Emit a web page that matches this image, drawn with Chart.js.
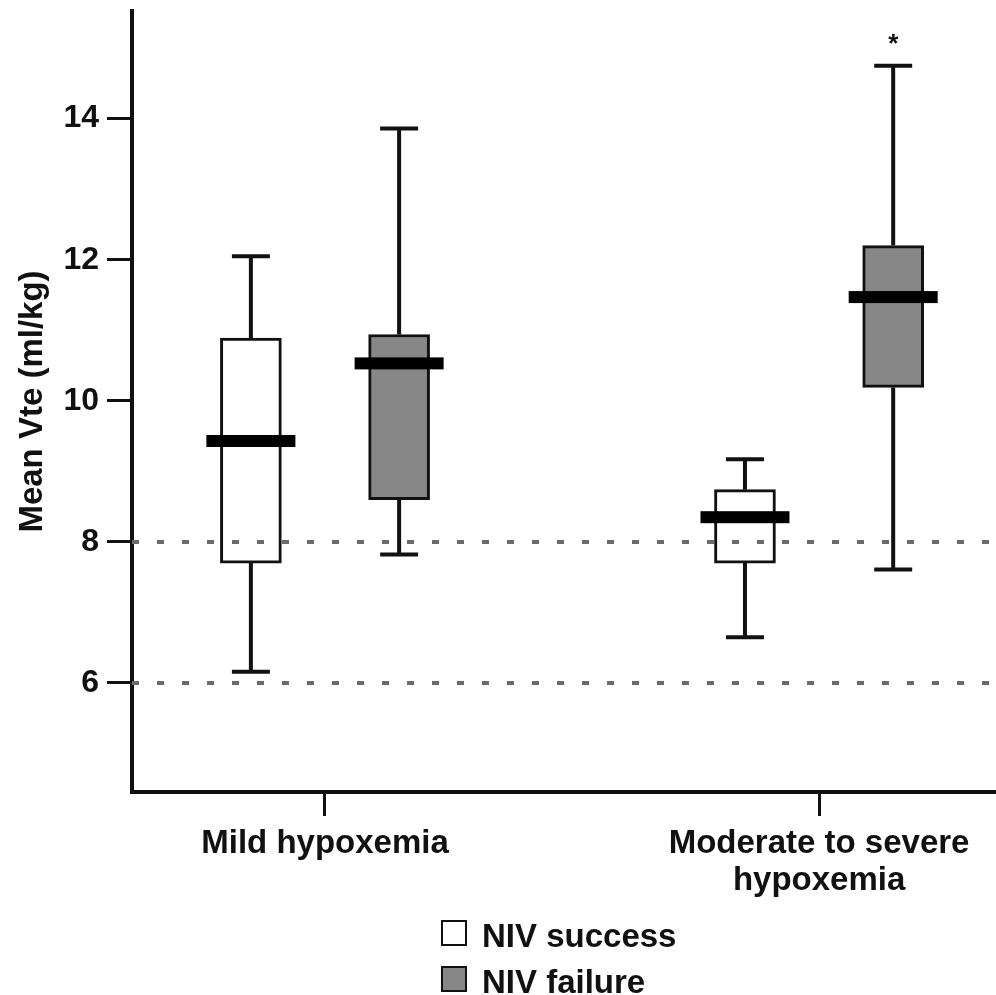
<!DOCTYPE html>
<html>
<head>
<meta charset="utf-8">
<script src="https://cdn.jsdelivr.net/npm/chart.js@4.4.1/dist/chart.umd.min.js"></script>
<style>
  html, body { margin: 0; padding: 0; background: #fff; }
  #wrap { position: relative; width: 996px; height: 995px; overflow: hidden; }
  #vte { display: block; }
  .key { position: absolute; left: 441px; height: 33px; line-height: 33px;
         font: bold 33px "Liberation Sans", Arial, sans-serif; color: #111; white-space: nowrap; }
  .key span.sw { position: absolute; left: 0; top: 3px; width: 22px; height: 22px; border: 2.5px solid #111; }
  .key span.tx { position: absolute; left: 41px; top: 0; }
</style>
</head>
<body>
<div id="wrap">
  <canvas id="vte" width="996" height="995"></canvas>
  <div class="key" style="top:917px"><span class="sw" style="background:#fff"></span><span class="tx">NIV success</span></div>
  <div class="key" style="top:963px"><span class="sw" style="background:#878787"></span><span class="tx">NIV failure</span></div>
</div>
<script>
// groups along the x axis
const groups = ['Mild hypoxemia', ['Moderate to severe', 'hypoxemia']];

// NIV success box stats (ml/kg), one value per group
const successMin    = [6.16, 6.65];
const successQ1     = [7.70, 7.70];
const successMedian = [9.43, 8.35];
const successQ3     = [10.89, 8.74];
const successMax    = [12.05, 9.17];

// NIV failure box stats
const failureMin    = [7.82, 7.61];
const failureQ1     = [8.60, 10.19];
const failureMedian = [10.53, 11.47];
const failureQ3     = [10.94, 12.20];
const failureMax    = [13.86, 14.75];
const failureMarks  = ['', '*'];

// y axis
const yTicks = [6, 8, 10, 12, 14];
const refLines = [6, 8];

// layout on the linear x axis
const GROUP_POS = [1, 3.56];
const BOX_SHIFT = 0.384;
const X_MAX = 4.4767;
const Y_MIN = 4.455, Y_MAX = 15.525;

const FONT = '"Liberation Sans", Arial, sans-serif';
const INK = '#111';

const series = [
  { label: 'NIV success', fill: '#ffffff', shift: -BOX_SHIFT,
    min: successMin, q1: successQ1, med: successMedian, q3: successQ3, max: successMax, marks: null },
  { label: 'NIV failure', fill: '#878787', shift: BOX_SHIFT,
    min: failureMin, q1: failureQ1, med: failureMedian, q3: failureQ3, max: failureMax, marks: failureMarks }
];

const boxDatasets = series.map(s => ({
  type: 'bar',
  label: s.label,
  data: GROUP_POS.map((p, i) => ({ x: p + s.shift, y: [s.q1[i], s.q3[i]] })),
  backgroundColor: s.fill,
  borderColor: INK,
  borderWidth: 3,
  borderSkipped: false,
  barThickness: 61,
  grouped: false,
  order: 2
}));

const lineDatasets = refLines.map(v => ({
  type: 'line',
  label: 'ref ' + v,
  data: [{ x: 0, y: v }, { x: X_MAX, y: v }],
  borderColor: '#6b6b6b',
  borderWidth: 4,
  borderDash: [7, 18],
  borderCapStyle: 'butt',
  pointRadius: 0,
  order: 1
}));

// whiskers, caps, medians and significance marks
const boxWhiskers = {
  id: 'boxWhiskers',
  afterDatasetsDraw(chart) {
    const ctx = chart.ctx;
    const y = chart.scales.y;
    series.forEach((s, di) => {
      const meta = chart.getDatasetMeta(di);
      meta.data.forEach((bar, i) => {
        const x = bar.x;
        const pMin = y.getPixelForValue(s.min[i]);
        const pMax = y.getPixelForValue(s.max[i]);
        const pQ1 = y.getPixelForValue(s.q1[i]);
        const pQ3 = y.getPixelForValue(s.q3[i]);
        const pMed = y.getPixelForValue(s.med[i]);
        ctx.save();
        ctx.strokeStyle = INK;
        ctx.lineWidth = 4;
        ctx.lineCap = 'butt';
        ctx.beginPath();
        ctx.moveTo(x, pQ3); ctx.lineTo(x, pMax);
        ctx.moveTo(x, pQ1); ctx.lineTo(x, pMin);
        ctx.moveTo(x - 19, pMax); ctx.lineTo(x + 19, pMax);
        ctx.moveTo(x - 19, pMin); ctx.lineTo(x + 19, pMin);
        ctx.stroke();
        ctx.fillStyle = '#000';
        ctx.fillRect(x - 44.5, pMed - 6, 89, 12);
        if (s.marks && s.marks[i]) {
          ctx.fillStyle = INK;
          ctx.font = 'bold 26px ' + FONT;
          ctx.textAlign = 'center';
          ctx.textBaseline = 'alphabetic';
          ctx.fillText(s.marks[i], x, pMax - 14);
        }
        ctx.restore();
      });
    });
  }
};

new Chart(document.getElementById('vte'), {
  type: 'bar',
  data: { datasets: [...boxDatasets, ...lineDatasets] },
  options: {
    responsive: false,
    animation: false,
    devicePixelRatio: 1,
    layout: { padding: { top: 11, right: 0, bottom: 0, left: 0 } },
    plugins: { legend: { display: false }, tooltip: { enabled: false } },
    scales: {
      x: {
        type: 'linear',
        min: 0,
        max: X_MAX,
        offset: false,
        grid: { offset: false, drawOnChartArea: false, drawTicks: true, tickLength: 24, lineWidth: 3, color: INK },
        border: { display: true, width: 4, color: INK },
        afterBuildTicks: scale => { scale.ticks = GROUP_POS.map(v => ({ value: v })); },
        afterFit: scale => { scale.height = 203; scale.paddingLeft = 0; scale.paddingRight = 0; },
        ticks: {
          autoSkip: false,
          maxRotation: 0,
          padding: 10,
          color: INK,
          font: { family: FONT, size: 33, weight: 'bold', lineHeight: 1.1 },
          callback: (value, index) => groups[index]
        }
      },
      y: {
        type: 'linear',
        min: Y_MIN,
        max: Y_MAX,
        grid: { drawOnChartArea: false, drawTicks: true, tickLength: 25, lineWidth: 3, color: INK },
        border: { display: true, width: 4, color: INK },
        afterBuildTicks: scale => { scale.ticks = yTicks.map(v => ({ value: v })); },
        afterFit: scale => { scale.width = 132; scale.paddingTop = 0; scale.paddingBottom = 0; },
        ticks: {
          padding: 8,
          color: INK,
          font: { family: FONT, size: 32, weight: 'bold' }
        },
        title: {
          display: true,
          text: 'Mean Vte (ml/kg)',
          color: INK,
          padding: { top: 13, bottom: 0 },
          font: { family: FONT, size: 33, weight: 'bold', lineHeight: 1.2 }
        }
      }
    }
  },
  plugins: [boxWhiskers]
});
</script>
</body>
</html>
